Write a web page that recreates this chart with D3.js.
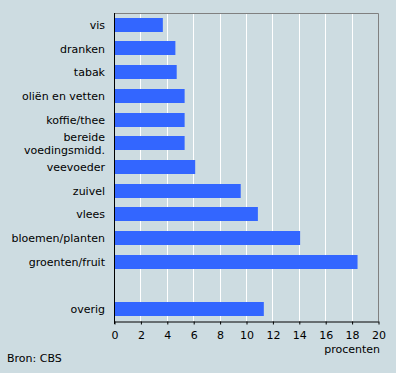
<!DOCTYPE html>
<html>
<head>
<meta charset="utf-8">
<script src="https://cdn.jsdelivr.net/npm/d3@7"></script>
<style>
  body { margin: 0; background: #cddce1; }
  svg { display: block; font-family: "DejaVu Sans", Verdana, sans-serif; font-size: 11px; }
</style>
</head>
<body>
<script>
// categories top to bottom, "" is the empty gap before "overig"
let categories = ["vis", "dranken", "tabak", "oliën en vetten", "koffie/thee",
  "bereide voedingsmidd.", "veevoeder", "zuivel", "vlees", "bloemen/planten",
  "groenten/fruit", "", "overig"];
let values = [3.7, 4.65, 4.75, 5.35, 5.35, 5.35, 6.15, 9.6, 10.9, 14.1, 18.45, null, 11.35];
let ticks = [0, 2, 4, 6, 8, 10, 12, 14, 16, 18, 20];

let w = 396, h = 373;
let padL = 114, padR = 378, padT = 13, padB = 321;

let svg = d3.select("body").append("svg")
  .attr("width", w)
  .attr("height", h);

let x = d3.scaleLinear().domain([0, 20]).range([padL, padR]);
let y = d3.scaleBand().domain(d3.range(categories.length))
  .range([padT, padB]).paddingInner(0.4).paddingOuter(0.2);

// white gridlines
svg.selectAll("line.grid")
  .data(ticks.slice(1, -1))
  .enter().append("line")
    .attr("x1", d => Math.round(x(d)) + 0.5)
    .attr("x2", d => Math.round(x(d)) + 0.5)
    .attr("y1", padT)
    .attr("y2", padB)
    .attr("stroke", "#fff");

// gray frame top and right
svg.append("path")
  .attr("d", `M${padL},${padT + 0.5}H${padR + 0.5}V${padB}`)
  .attr("fill", "none")
  .attr("stroke", "#808080");

let rows = categories.map((c, i) => ({c: c, v: values[i], i: i}));

svg.selectAll("rect")
  .data(rows.filter(d => d.v != null))
  .enter().append("rect")
    .attr("x", x(0))
    .attr("y", d => Math.round(y(d.i)))
    .attr("width", d => x(d.v) - x(0))
    .attr("height", Math.round(y.bandwidth()))
    .attr("fill", "#3366ff");

// category labels, long ones on two lines
let labels = svg.selectAll("text.cat")
  .data(rows.filter(d => d.c != ""))
  .enter().append("text")
    .attr("class", "cat")
    .attr("text-anchor", "end")
    .attr("x", 105)
    .attr("y", d => y(d.i) + y.bandwidth() / 2 + 4);

labels.each(function(d) {
  let lines = d.c.length > 16 ? d.c.split(" ") : [d.c];
  let t = d3.select(this);
  lines.forEach((l, k) => {
    t.append("tspan")
      .attr("x", 105)
      .attr("dy", k == 0 ? -(lines.length - 1) * 6.5 : 13)
      .text(l);
  });
});

// x axis
let xAxis = d3.axisBottom(x).tickValues(ticks).tickSize(3).tickSizeOuter(0).tickPadding(7);
let gx = svg.append("g")
  .attr("transform", `translate(0.5,${padB + 0.5})`)
  .call(xAxis);
gx.select(".domain").attr("stroke", "#000");
gx.selectAll(".tick line").attr("stroke", "#000");
gx.selectAll("text").attr("fill", "#000")
  .attr("font-family", "DejaVu Sans, Verdana, sans-serif").attr("font-size", 11);

// left axis line
svg.append("line")
  .attr("x1", padL + 0.5).attr("x2", padL + 0.5)
  .attr("y1", padT).attr("y2", padB + 3)
  .attr("stroke", "#000");

svg.append("text")
  .attr("x", 380)
  .attr("y", 353)
  .attr("text-anchor", "end")
  .text("procenten");

svg.append("text")
  .attr("x", 7)
  .attr("y", 362)
  .text("Bron: CBS");
</script>
</body>
</html>
